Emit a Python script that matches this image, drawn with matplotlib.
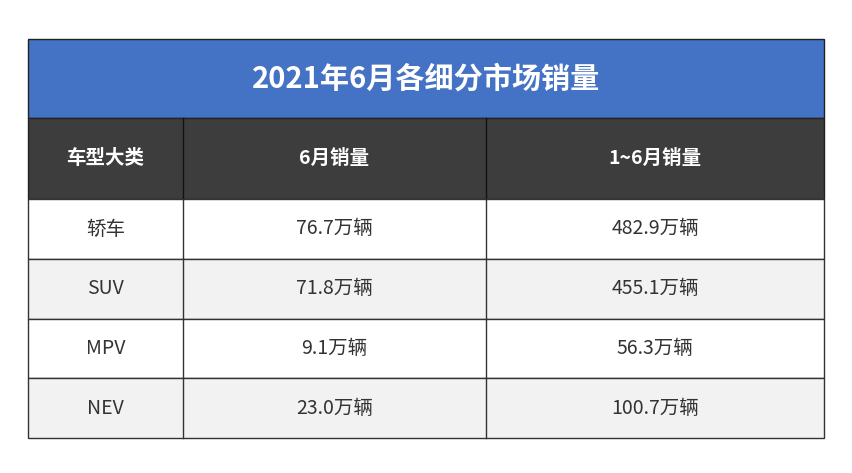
import matplotlib
matplotlib.use("Agg")
import matplotlib.pyplot as plt
from matplotlib.patches import Rectangle

plt.rcParams['font.family'] = ['Noto Sans CJK SC', 'DejaVu Sans']

title = "2021年6月各细分市场销量"
headers = ["车型大类", "6月销量", "1~6月销量"]
categories = ["轿车", "SUV", "MPV", "NEV"]
june = [76.7, 71.8, 9.1, 23.0]
ytd = [482.9, 455.1, 56.3, 100.7]
unit = "万辆"

W, H = 852, 473
fig = plt.figure(figsize=(W/100, H/100), dpi=100)
ax = fig.add_axes([0, 0, 1, 1])
ax.set_xlim(0, W); ax.set_ylim(H, 0); ax.axis('off')

L, R = 28, 824
cols = [28, 183, 486, 824]
top, tb, hb = 39, 118, 199
rh = 59.8

ax.add_patch(Rectangle((L, top), R-L, tb-top, facecolor='#4472c4', edgecolor='#222', lw=1))
ax.text((L+R)/2, (top+tb)/2, title, color='white', fontsize=21, fontweight='bold', ha='center', va='center')
ax.add_patch(Rectangle((L, tb), R-L, hb-tb, facecolor='#3d3d3d', edgecolor='#222', lw=1))
for i, h in enumerate(headers):
    ax.text((cols[i]+cols[i+1])/2, (tb+hb)/2, h, color='white', fontsize=14, fontweight='bold', ha='center', va='center')
ax.plot([cols[1]]*2, [tb, hb], color='#111', lw=1)
ax.plot([cols[2]]*2, [tb, hb], color='#111', lw=1)

for r, cat in enumerate(categories):
    y0 = hb + r*rh
    fc = 'white' if r % 2 == 0 else '#f2f2f2'
    ax.add_patch(Rectangle((L, y0), R-L, rh, facecolor=fc, edgecolor='#333', lw=1))
    vals = [cat, f"{june[r]:.1f}{unit}", f"{ytd[r]:.1f}{unit}"]
    for i, v in enumerate(vals):
        ax.text((cols[i]+cols[i+1])/2, y0+rh/2, v, color='#333', fontsize=14, ha='center', va='center')
    for c in cols[1:3]:
        ax.plot([c, c], [y0, y0+rh], color='#333', lw=1)

fig.savefig("out.png", dpi=100)
